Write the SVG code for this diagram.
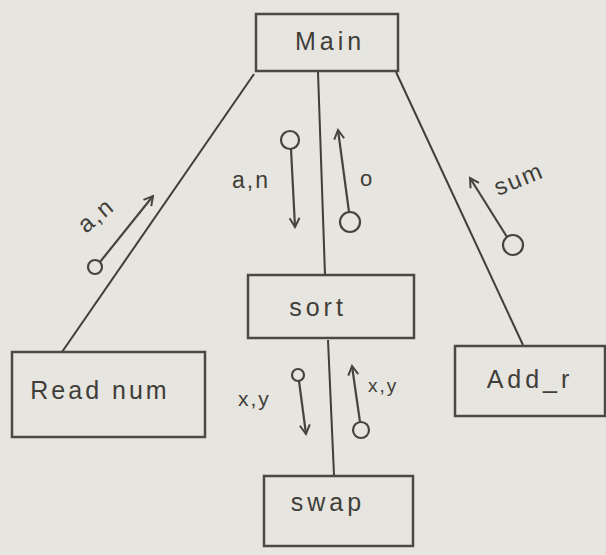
<svg xmlns="http://www.w3.org/2000/svg" width="606" height="555" viewBox="0 0 606 555">
<defs>
<marker id="arr" viewBox="0 0 12 12" refX="10" refY="6" markerWidth="12" markerHeight="12" markerUnits="userSpaceOnUse" orient="auto">
<polyline points="1,1 10,6 1,11" fill="none" stroke="#45443d" stroke-width="2"/>
</marker>
</defs>
<style>
.box{fill:none;stroke:#4a4942;stroke-width:2.5}
.ln{fill:none;stroke:#3f3e38;stroke-width:2}
.cp{fill:none;stroke:#45443d;stroke-width:2.2}
.lbl{font-family:"Liberation Sans",Arial,sans-serif;fill:#3f3e38;letter-spacing:2px}
.nt{font-family:"Liberation Sans",Arial,sans-serif;font-size:25px;fill:#3f3e38;text-anchor:middle;letter-spacing:4px}
</style>
<rect width="606" height="555" fill="#e7e5e0"/>
<g id="connectors">
<line class="ln" x1="254" y1="74" x2="62" y2="352"/>
<line class="ln" x1="318" y1="72" x2="325" y2="275"/>
<line class="ln" x1="396" y1="72" x2="523" y2="345"/>
<line class="ln" x1="328" y1="340" x2="334" y2="475"/>
</g>
<g id="couples">
<g id="c-readnum">
<circle class="cp" cx="95" cy="267" r="7"/>
<line class="cp" x1="100" y1="262" x2="153" y2="196" marker-end="url(#arr)"/>
<text class="lbl" font-size="24" transform="translate(86,234) rotate(-40)">a,n</text>
</g>
<g id="c-sort-down">
<circle class="cp" cx="290" cy="140" r="9"/>
<line class="cp" x1="291" y1="149" x2="295" y2="227" marker-end="url(#arr)"/>
<text class="lbl" font-size="23" x="232" y="188">a,n</text>
</g>
<g id="c-sort-up">
<circle class="cp" cx="350" cy="222" r="10"/>
<line class="cp" x1="349" y1="212" x2="338" y2="130" marker-end="url(#arr)"/>
<text class="lbl" font-size="22" x="360" y="186">o</text>
</g>
<g id="c-add">
<circle class="cp" cx="513" cy="245" r="10"/>
<line class="cp" x1="507" y1="237" x2="470" y2="178" marker-end="url(#arr)"/>
<text class="lbl" font-size="24" transform="translate(498,196) rotate(-22)">sum</text>
</g>
<g id="c-swap-down">
<circle class="cp" cx="298" cy="375" r="6"/>
<line class="cp" x1="299" y1="381" x2="306" y2="434" marker-end="url(#arr)"/>
<text class="lbl" font-size="21" x="238" y="406">x,y</text>
</g>
<g id="c-swap-up">
<circle class="cp" cx="361" cy="430" r="8"/>
<line class="cp" x1="360" y1="422" x2="352" y2="366" marker-end="url(#arr)"/>
<text class="lbl" font-size="19" x="368" y="392">x,y</text>
</g>
</g>
<g id="main">
<rect class="box" x="256" y="14" width="142" height="57"/>
<text class="nt" x="330" y="50" font-size="28">Main</text>
</g>
<g id="readnum">
<rect class="box" x="12" y="352" width="193" height="85"/>
<text class="nt" x="100" y="399" style="letter-spacing:3px">Read num</text>
</g>
<g id="sort">
<rect class="box" x="248" y="275" width="166" height="63"/>
<text class="nt" x="318" y="316">sort</text>
</g>
<g id="addr">
<rect class="box" x="455" y="346" width="150" height="70"/>
<text class="nt" x="530" y="388">Add_r</text>
</g>
<g id="swap">
<rect class="box" x="264" y="476" width="149" height="70"/>
<text class="nt" x="328" y="511">swap</text>
</g>
</svg>
